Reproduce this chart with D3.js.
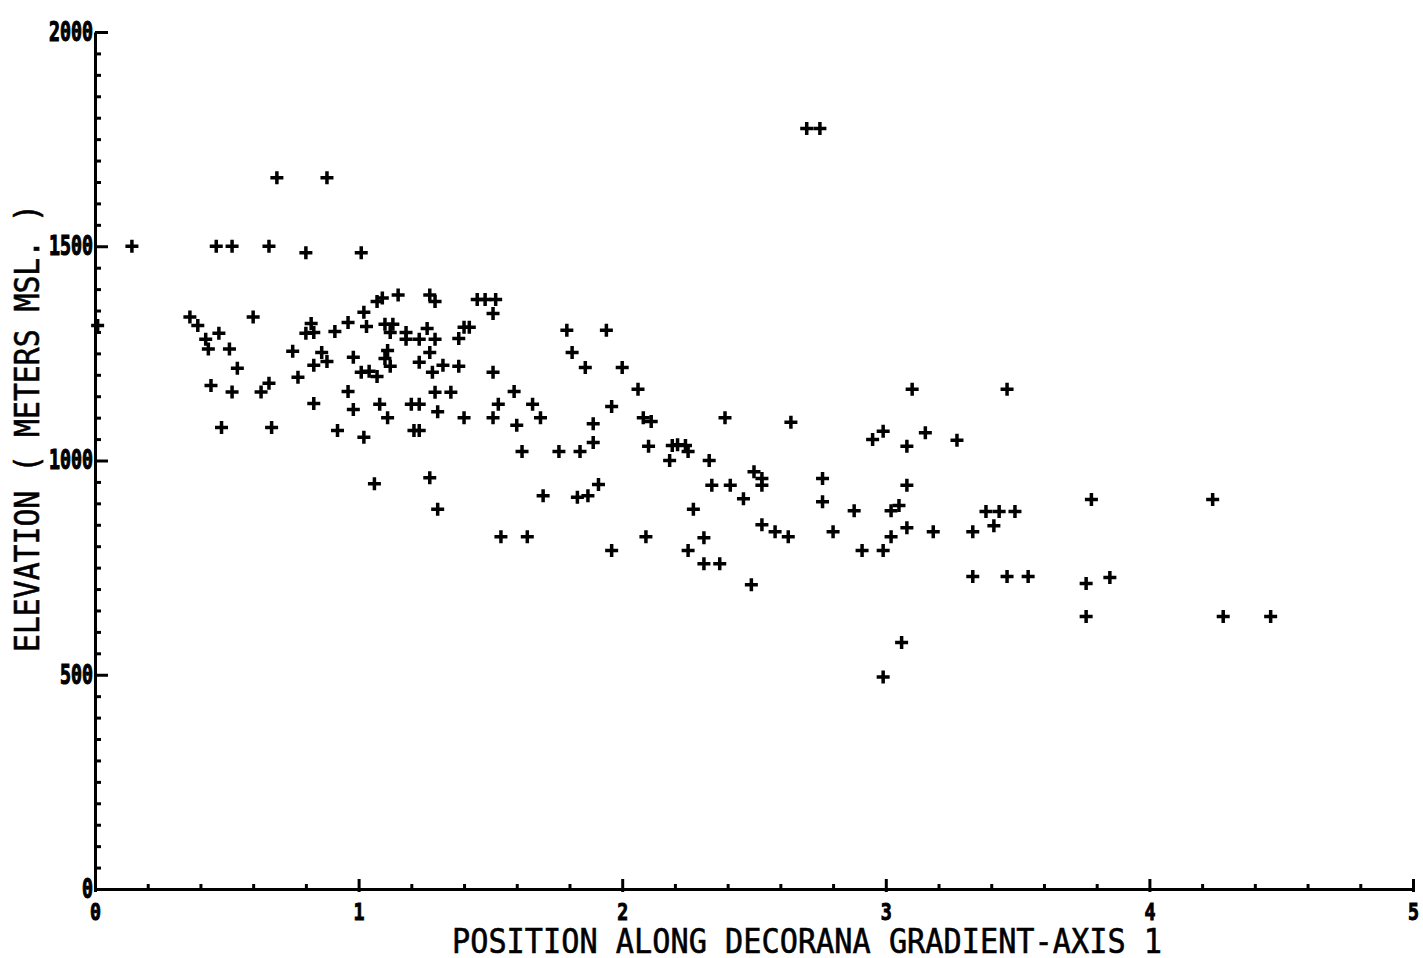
<!DOCTYPE html>
<html>
<head>
<meta charset="utf-8">
<script src="https://cdn.jsdelivr.net/npm/d3@7"></script>
<style>
  html, body { margin: 0; padding: 0; background: #fff; }
  svg { display: block; }
</style>
</head>
<body>
<svg id="chart" width="1423" height="958"></svg>
<script>
// Sample plots: position along DECORANA axis 1 and elevation (m MSL)
const axisPosition = [
  2.70, 2.75, 0.69, 0.88, 0.14, 0.46, 0.52, 0.66, 0.80, 1.01,
  0.01, 0.36, 0.39, 0.42, 0.47, 0.43, 0.51, 0.60, 0.54, 0.44,
  0.52, 0.63, 0.66, 0.48, 0.67, 0.75, 0.77, 0.83, 0.83, 0.82,
  0.80, 0.83, 0.86, 0.88, 0.91, 0.96, 0.98, 0.96, 0.98, 0.92,
  1.02, 1.02, 1.03, 1.07, 1.09, 1.15, 1.27, 1.29, 1.45, 1.48,
  1.52, 1.51, 1.10, 1.13, 1.12, 1.18, 1.18, 1.23, 1.26, 1.29,
  1.27, 1.38, 1.40, 1.42, 1.11, 1.10, 1.12, 1.01, 1.04, 1.07,
  1.23, 1.28, 1.32, 1.38, 1.51, 1.29, 1.35, 1.59, 1.08, 1.11,
  1.20, 1.23, 1.30, 1.40, 1.51, 1.53, 1.60, 1.66, 1.69, 1.21,
  1.23, 1.06, 1.27, 1.30, 1.62, 1.76, 1.84, 1.89, 1.89, 1.79,
  1.94, 1.81, 1.86, 2.00, 2.06, 1.96, 2.08, 2.11, 2.10, 1.70,
  1.83, 1.87, 1.91, 1.54, 1.64, 1.96, 2.09, 2.39, 2.64, 3.10,
  2.19, 2.21, 2.24, 2.25, 2.18, 2.33, 2.34, 2.41, 2.46, 2.50,
  2.53, 2.53, 2.27, 2.76, 2.76, 2.88, 2.95, 2.99, 3.08, 3.15,
  3.08, 3.02, 3.05, 3.18, 3.08, 3.02, 2.99, 2.91, 2.80, 2.63,
  2.58, 2.53, 2.31, 2.25, 2.31, 2.37, 2.49, 3.46, 3.27, 3.38,
  3.43, 3.49, 3.41, 3.33, 3.33, 3.46, 3.54, 3.78, 4.24, 3.76,
  3.85, 3.76, 4.28, 4.46, 3.06, 2.99
];
const elevation = [
  1775, 1775, 1660, 1660, 1500, 1500, 1500, 1500, 1485, 1485,
  1315, 1335, 1315, 1283, 1297, 1260, 1260, 1335, 1215, 1175,
  1160, 1160, 1180, 1077, 1077, 1255, 1194, 1222, 1133, 1320,
  1297, 1299, 1252, 1231, 1301, 1322, 1241, 1161, 1119, 1070,
  1054, 1346, 1313, 1371, 1379, 1386, 1386, 1371, 1376, 1376,
  1376, 1343, 1318, 1318, 1299, 1299, 1283, 1283, 1308, 1283,
  1252, 1285, 1311, 1311, 1257, 1238, 1220, 1206, 1208, 1196,
  1229, 1206, 1222, 1220, 1206, 1159, 1159, 1161, 1131, 1100,
  1131, 1131, 1114, 1100, 1100, 1131, 1082, 1131, 1100, 1070,
  1070, 946, 960, 886, 1021, 1021, 1021, 1042, 1086, 1304,
  1304, 1252, 1217, 1217, 1166, 1126, 1100, 1091, 1033, 918,
  914, 918, 944, 822, 822, 790, 822, 1100, 1089, 1166,
  1035, 1037, 1035, 1021, 1000, 1000, 942, 942, 911, 974,
  958, 942, 886, 958, 904, 883, 1049, 1068, 1033, 1065,
  942, 883, 895, 834, 843, 822, 790, 790, 834, 822,
  834, 850, 820, 790, 759, 759, 710, 1166, 1047, 881,
  881, 881, 848, 834, 729, 729, 729, 909, 909, 713,
  727, 636, 636, 636, 575, 495
];

// Axis ticks and labels
const xMajorTicks = [0, 1, 2, 3, 4, 5];
const xMinorTicks = [0.2, 0.4, 0.6, 0.8, 1.2, 1.4, 1.6, 1.8, 2.2, 2.4, 2.6, 2.8,
                     3.2, 3.4, 3.6, 3.8, 4.2, 4.4, 4.6, 4.8];
const yMajorTicks = [0, 500, 1000, 1500, 2000];
const xTitle = "POSITION ALONG DECORANA GRADIENT-AXIS 1";
const yTitle = "ELEVATION ( METERS MSL. )";

const points = axisPosition.map((v, i) => ({ x: v, y: elevation[i] }));

const svg = d3.select("#chart");

const x = d3.scaleLinear().domain([0, 5]).range([95, 1413]);
const y = d3.scaleLinear().domain([0, 2000]).range([889, 32]);

const labelFont = "'DejaVu Sans Mono', monospace";
const ink = "#000";

// Minor ticks on the elevation axis, every 50 m
const yMinor = d3.range(0, 2001, 50).filter(v => v % 500 !== 0);
svg.append("g")
  .attr("transform", `translate(${x(0)},0)`)
  .call(d3.axisLeft(y).tickValues(yMinor).tickSize(-6).tickFormat(""))
  .call(g => g.select(".domain").remove())
  .call(g => g.selectAll(".tick line").attr("stroke", ink).attr("stroke-width", 3));

// Major elevation ticks with labels
const gy = svg.append("g")
  .attr("transform", `translate(${x(0)},0)`)
  .call(d3.axisLeft(y).tickValues(yMajorTicks).tickSize(-13).tickSizeOuter(0)
          .tickPadding(2).tickFormat(d3.format("d")));
gy.select(".domain").attr("stroke", ink).attr("stroke-width", 3);
gy.selectAll(".tick line").attr("stroke", ink).attr("stroke-width", 3);
gy.selectAll(".tick text")
  .attr("fill", ink)
  .attr("stroke", ink)
  .attr("stroke-width", 1.2)
  .style("font-family", labelFont)
  .style("font-weight", "bold")
  .style("font-size", "26px")
  .attr("textLength", d => String(d).length * 11)
  .attr("lengthAdjust", "spacingAndGlyphs");

// Minor ticks on the gradient axis, every 0.2
svg.append("g")
  .attr("transform", `translate(0,${y(0)})`)
  .call(d3.axisBottom(x).tickValues(xMinorTicks).tickSize(-5).tickFormat(""))
  .call(g => g.select(".domain").remove())
  .call(g => g.selectAll(".tick line").attr("stroke", ink).attr("stroke-width", 3));

// Major gradient-axis ticks with labels
const gx = svg.append("g")
  .attr("transform", `translate(0,${y(0)})`)
  .call(d3.axisBottom(x).tickValues(xMajorTicks).tickSize(-10).tickSizeOuter(0)
          .tickPadding(15).tickFormat(d3.format("d")));
gx.select(".domain").attr("stroke", ink).attr("stroke-width", 3);
gx.selectAll(".tick line").attr("stroke", ink).attr("stroke-width", 3).attr("y2", 3).attr("y1", -10);
gx.selectAll(".tick text")
  .attr("fill", ink)
  .attr("stroke", ink)
  .attr("stroke-width", 1)
  .style("font-family", labelFont)
  .style("font-weight", "bold")
  .style("font-size", "23px")
  .attr("textLength", 11)
  .attr("lengthAdjust", "spacingAndGlyphs");

// Axis titles
svg.append("text")
  .attr("x", 452)
  .attr("y", 953)
  .attr("fill", ink)
  .attr("stroke", ink)
  .attr("stroke-width", 0.6)
  .style("font-family", labelFont)
  .style("font-size", "34px")
  .attr("textLength", 710)
  .attr("lengthAdjust", "spacingAndGlyphs")
  .text(xTitle);

svg.append("text")
  .attr("transform", "translate(39,652) rotate(-90)")
  .attr("fill", ink)
  .attr("stroke", ink)
  .attr("stroke-width", 0.6)
  .style("font-family", labelFont)
  .style("font-size", "34px")
  .attr("textLength", 448)
  .attr("lengthAdjust", "spacingAndGlyphs")
  .text(yTitle);

// Plus-sign markers for each sample
const arm = 6.5;
svg.append("g")
  .selectAll("path")
  .data(points)
  .join("path")
  .attr("transform", d => `translate(${x(d.x)},${y(d.y)})`)
  .attr("d", `M${-arm},0H${arm}M0,${-arm}V${arm}`)
  .attr("stroke", ink)
  .attr("stroke-width", 3.5)
  .attr("fill", "none");
</script>
</body>
</html>
